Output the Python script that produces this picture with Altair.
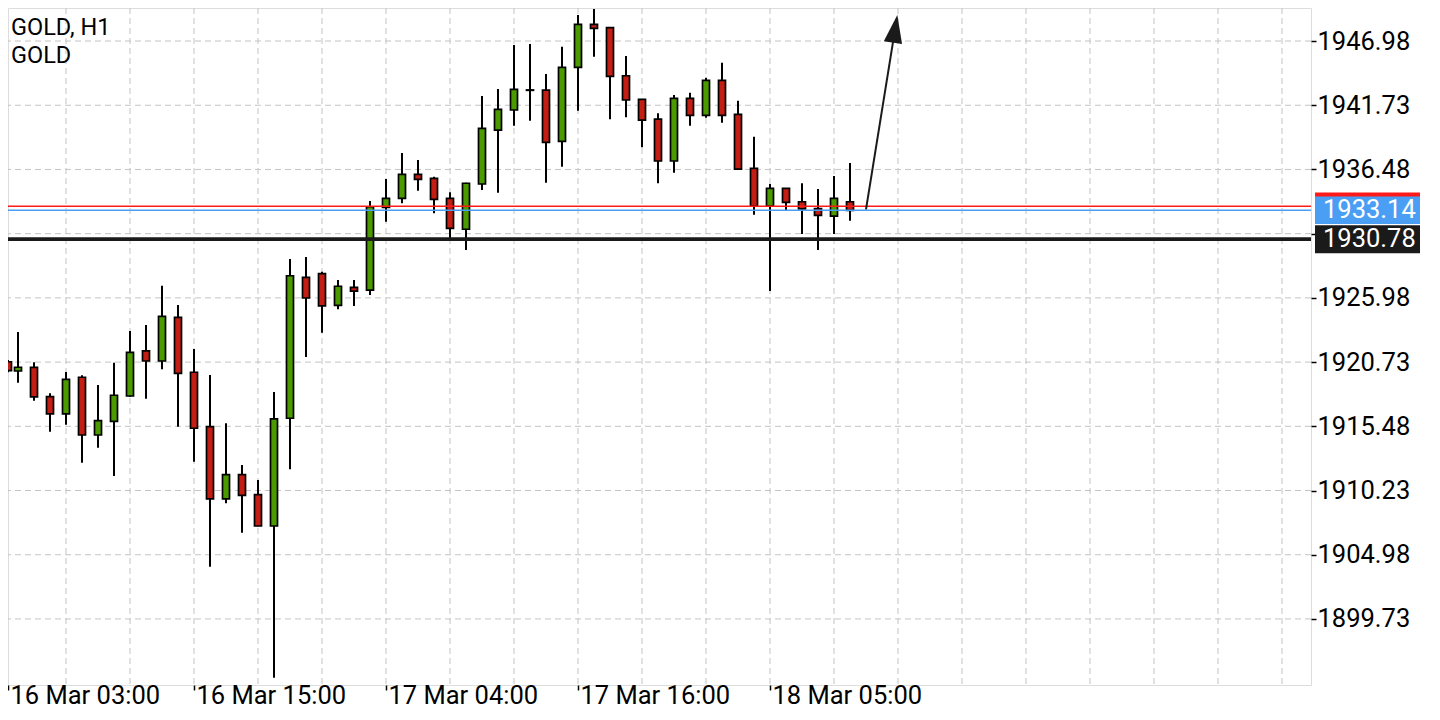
import altair as alt
import pandas as pd

# ---------------- data ----------------
slots = list(range(-1, 53))
opens = [1920.76, 1920.00, 1920.30, 1917.90, 1916.49, 1919.49, 1914.77, 1915.89, 1917.96, 1921.64,
         1920.82, 1924.39, 1919.90, 1915.45, 1909.54, 1911.53, 1909.89, 1907.33, 1916.14, 1927.66,
         1927.96, 1925.37, 1926.84, 1926.62, 1933.38, 1934.12, 1936.08, 1935.75, 1934.12, 1931.59,
         1935.29, 1939.70, 1941.34, 1942.98, 1942.97, 1938.78, 1944.83, 1948.34, 1948.07, 1944.14,
         1942.21, 1940.60, 1937.17, 1942.29, 1940.90, 1943.77, 1940.99, 1936.57, 1933.49, 1934.94,
         1933.84, 1933.27, 1932.67, 1933.84]
highs = [1920.90, 1923.19, 1920.71, 1918.18, 1919.92, 1919.65, 1918.86, 1920.68, 1923.27, 1923.76,
         1926.98, 1925.40, 1921.80, 1919.68, 1915.73, 1912.32, 1911.09, 1918.29, 1929.16, 1929.32,
         1928.12, 1927.44, 1927.44, 1933.90, 1935.70, 1937.82, 1937.25, 1935.89, 1934.61, 1935.40,
         1942.48, 1943.05, 1946.65, 1946.73, 1944.28, 1946.51, 1949.10, 1949.59, 1948.10, 1945.75,
         1942.25, 1941.07, 1942.56, 1942.75, 1943.98, 1945.20, 1942.10, 1939.16, 1935.29, 1934.96,
         1935.35, 1934.88, 1935.94, 1937.01]
lows = [1919.90, 1919.05, 1917.57, 1915.04, 1915.61, 1912.51, 1913.73, 1911.42, 1917.90, 1917.74,
        1920.14, 1915.45, 1912.59, 1904.00, 1909.19, 1906.78, 1907.30, 1894.93, 1911.97, 1921.15,
        1923.13, 1925.05, 1925.32, 1926.21, 1932.21, 1933.71, 1934.74, 1932.89, 1930.85, 1929.89,
        1934.80, 1934.58, 1940.05, 1940.46, 1935.39, 1936.70, 1941.28, 1945.70, 1940.58, 1940.74,
        1938.29, 1935.35, 1936.21, 1940.05, 1940.71, 1940.30, 1936.50, 1932.78, 1926.54, 1933.11,
        1931.20, 1929.89, 1931.20, 1932.29]
closes = [1920.03, 1920.31, 1917.88, 1916.49, 1919.32, 1914.77, 1915.94, 1918.02, 1921.53, 1920.82,
          1924.47, 1919.81, 1915.32, 1909.54, 1911.53, 1909.84, 1907.33, 1916.08, 1927.79, 1925.97,
          1925.32, 1926.93, 1926.54, 1933.43, 1934.12, 1936.08, 1935.67, 1934.04, 1931.67, 1935.35,
          1939.84, 1941.39, 1943.03, 1942.95, 1938.70, 1944.83, 1948.34, 1948.02, 1944.09, 1942.16,
          1940.52, 1937.17, 1942.29, 1940.90, 1943.77, 1940.90, 1936.51, 1933.49, 1934.94, 1933.79,
          1933.25, 1932.73, 1934.12, 1933.14]

price_ticks = [1899.73, 1904.98, 1910.23, 1915.48, 1920.73, 1925.98, 1931.23, 1936.48, 1941.73, 1946.98]
grid_slots = list(range(3, 80, 4))
date_slots = [-1, 11, 23, 35, 47]
date_labels = ["16 Mar 03:00", "16 Mar 15:00", "17 Mar 04:00", "17 Mar 16:00", "18 Mar 05:00"]

bid_price = 1933.14
ask_price = 1933.47
level_price = 1930.78

arrow_slots = [53.0, 54.82]
arrow_prices = [1933.22, 1947.98]

header_lines = ["GOLD, H1", "GOLD"]

# ---------------- layout / style ----------------
W, H = 1303, 677
x_domain = [-0.625, 80.8125]
y_domain = [1894.33, 1949.68]
GREEN, RED = "#4b9b00", "#c21e14"
BLUE = "#4a9ff5"
FONT = "Roboto"
AX_FS = 25.5

candles = pd.DataFrame({"k": slots, "open": opens, "high": highs, "low": lows, "close": closes})

label_expr = " : ".join(
    f"datum.value == {s} ? '{t}'" for s, t in zip(date_slots, date_labels)
) + " : ''"

x_axis = alt.Axis(values=date_slots, labelExpr=label_expr, tickSize=5, tickColor="black",
                  tickWidth=1.5, domain=False, grid=False, labelAlign="left",
                  labelBaseline="alphabetic", labelPadding=13, labelFontSize=AX_FS,
                  labelColor="black", labelFlush=False, labelOverlap=False, labelBound=False,
                  title=None, labelFont=FONT, labelOffset=2)
y_axis = alt.Axis(values=price_ticks, orient="right", tickSize=5, tickColor="black",
                  tickWidth=1.5, domain=False, grid=False, labelPadding=1, labelFontSize=AX_FS,
                  labelColor="black", labelAlign="left", labelOverlap=False, labelBound=False,
                  labelFlush=False, title=None, labelFont=FONT,
                  labelExpr=f"abs(datum.value - {level_price}) < 2 ? '' : format(datum.value, '.2f')")

xs = alt.Scale(domain=x_domain, clamp=True, nice=False, zero=False, padding=0)
ys = alt.Scale(domain=y_domain, nice=False, zero=False, padding=0)


def X(field):
    return alt.X(field, type="quantitative", scale=xs, axis=x_axis)


def Y(field):
    return alt.Y(field, type="quantitative", scale=ys, axis=y_axis)


# grid
vgrid = alt.Chart(pd.DataFrame({"k": grid_slots})).mark_rule(
    color="#c4c4c4", strokeWidth=1, strokeDash=[6, 4]).encode(x=X("k"))
hgrid = alt.Chart(pd.DataFrame({"p": price_ticks})).mark_rule(
    color="#c4c4c4", strokeWidth=1, strokeDash=[6, 4]).encode(y=Y("p"))

# candles
wicks = alt.Chart(candles).mark_rule(color="black", strokeWidth=2).encode(
    x=X("k"), y=Y("low"), y2="high")
bodies = alt.Chart(candles).mark_bar(size=7, stroke="black", strokeWidth=1.7).encode(
    x=X("k"), y=Y("open"), y2="close",
    color=alt.condition("datum.close >= datum.open", alt.value(GREEN), alt.value(RED)))

# price lines
ask_line = alt.Chart(pd.DataFrame({"p": [ask_price]})).mark_rule(
    color="#ff1a1a", strokeWidth=1.6).encode(y=Y("p"))
bid_line = alt.Chart(pd.DataFrame({"p": [bid_price]})).mark_rule(
    color=BLUE, strokeWidth=1.6).encode(y=Y("p"))
level_line = alt.Chart(pd.DataFrame({"p": [level_price]})).mark_rule(
    color="#1a1a1a", strokeWidth=3.6).encode(y=Y("p"))

# arrow
arrow_df = pd.DataFrame({"k": [arrow_slots[0]], "p": [arrow_prices[0]],
                         "k2": [arrow_slots[1]], "p2": [arrow_prices[1]]})
arrow_line = alt.Chart(arrow_df).mark_rule(color="#1a1a1a", strokeWidth=2).encode(
    x=X("k"), y=Y("p"), x2="k2", y2="p2")
arrow_head = alt.Chart(pd.DataFrame({"k": [arrow_slots[1]], "p": [arrow_prices[1]]})).mark_point(
    shape="M0,-1L0.66,1L-0.66,1Z", size=784, filled=True, opacity=1, color="#1a1a1a",
    angle=9, strokeWidth=0).encode(x=X("k"), y=Y("p"))

# right-side price labels
ask_box = alt.Chart(pd.DataFrame({"p": [ask_price]})).mark_rule(
    color="#ff1a1a", strokeWidth=27.5, strokeCap="butt").encode(
    y=Y("p"), x=alt.value(W + 4), x2=alt.value(W + 109))
bid_box = alt.Chart(pd.DataFrame({"p": [bid_price]})).mark_rule(
    color=BLUE, strokeWidth=27.5, strokeCap="butt").encode(
    y=Y("p"), x=alt.value(W + 4), x2=alt.value(W + 109))
level_box = alt.Chart(pd.DataFrame({"p": [level_price]})).mark_rule(
    color="#1a1a1a", strokeWidth=28, strokeCap="butt").encode(
    y=Y("p"), x=alt.value(W + 4), x2=alt.value(W + 109))
box_text = alt.Chart(pd.DataFrame({"p": [bid_price, level_price]})).mark_text(
    color="white", fontSize=AX_FS, font=FONT, align="left", baseline="middle").encode(
    y=Y("p"), x=alt.value(W + 12), text=alt.Text("p:Q", format=".2f"))

# header
head1 = alt.Chart(pd.DataFrame({"t": [header_lines[0]]})).mark_text(
    fontSize=23.5, font=FONT, align="left", baseline="middle", color="black").encode(
    text="t:N", x=alt.value(3), y=alt.value(20))
head2 = alt.Chart(pd.DataFrame({"t": [header_lines[1]]})).mark_text(
    fontSize=23.5, font=FONT, align="left", baseline="middle", color="black").encode(
    text="t:N", x=alt.value(3), y=alt.value(48))

chart = alt.layer(
    vgrid, hgrid, wicks, bodies, ask_line, bid_line, level_line,
    arrow_line, arrow_head, ask_box, bid_box, level_box, box_text, head1, head2
).properties(
    width=W, height=H,
    autosize=alt.AutoSizeParams(type="none"),
    padding={"left": 0, "top": 0, "right": 112, "bottom": 24},
    background="white",
).configure_view(stroke="black", strokeWidth=2).configure(font=FONT)

chart.save("out.html", embed_options={"renderer": "svg", "actions": False})
